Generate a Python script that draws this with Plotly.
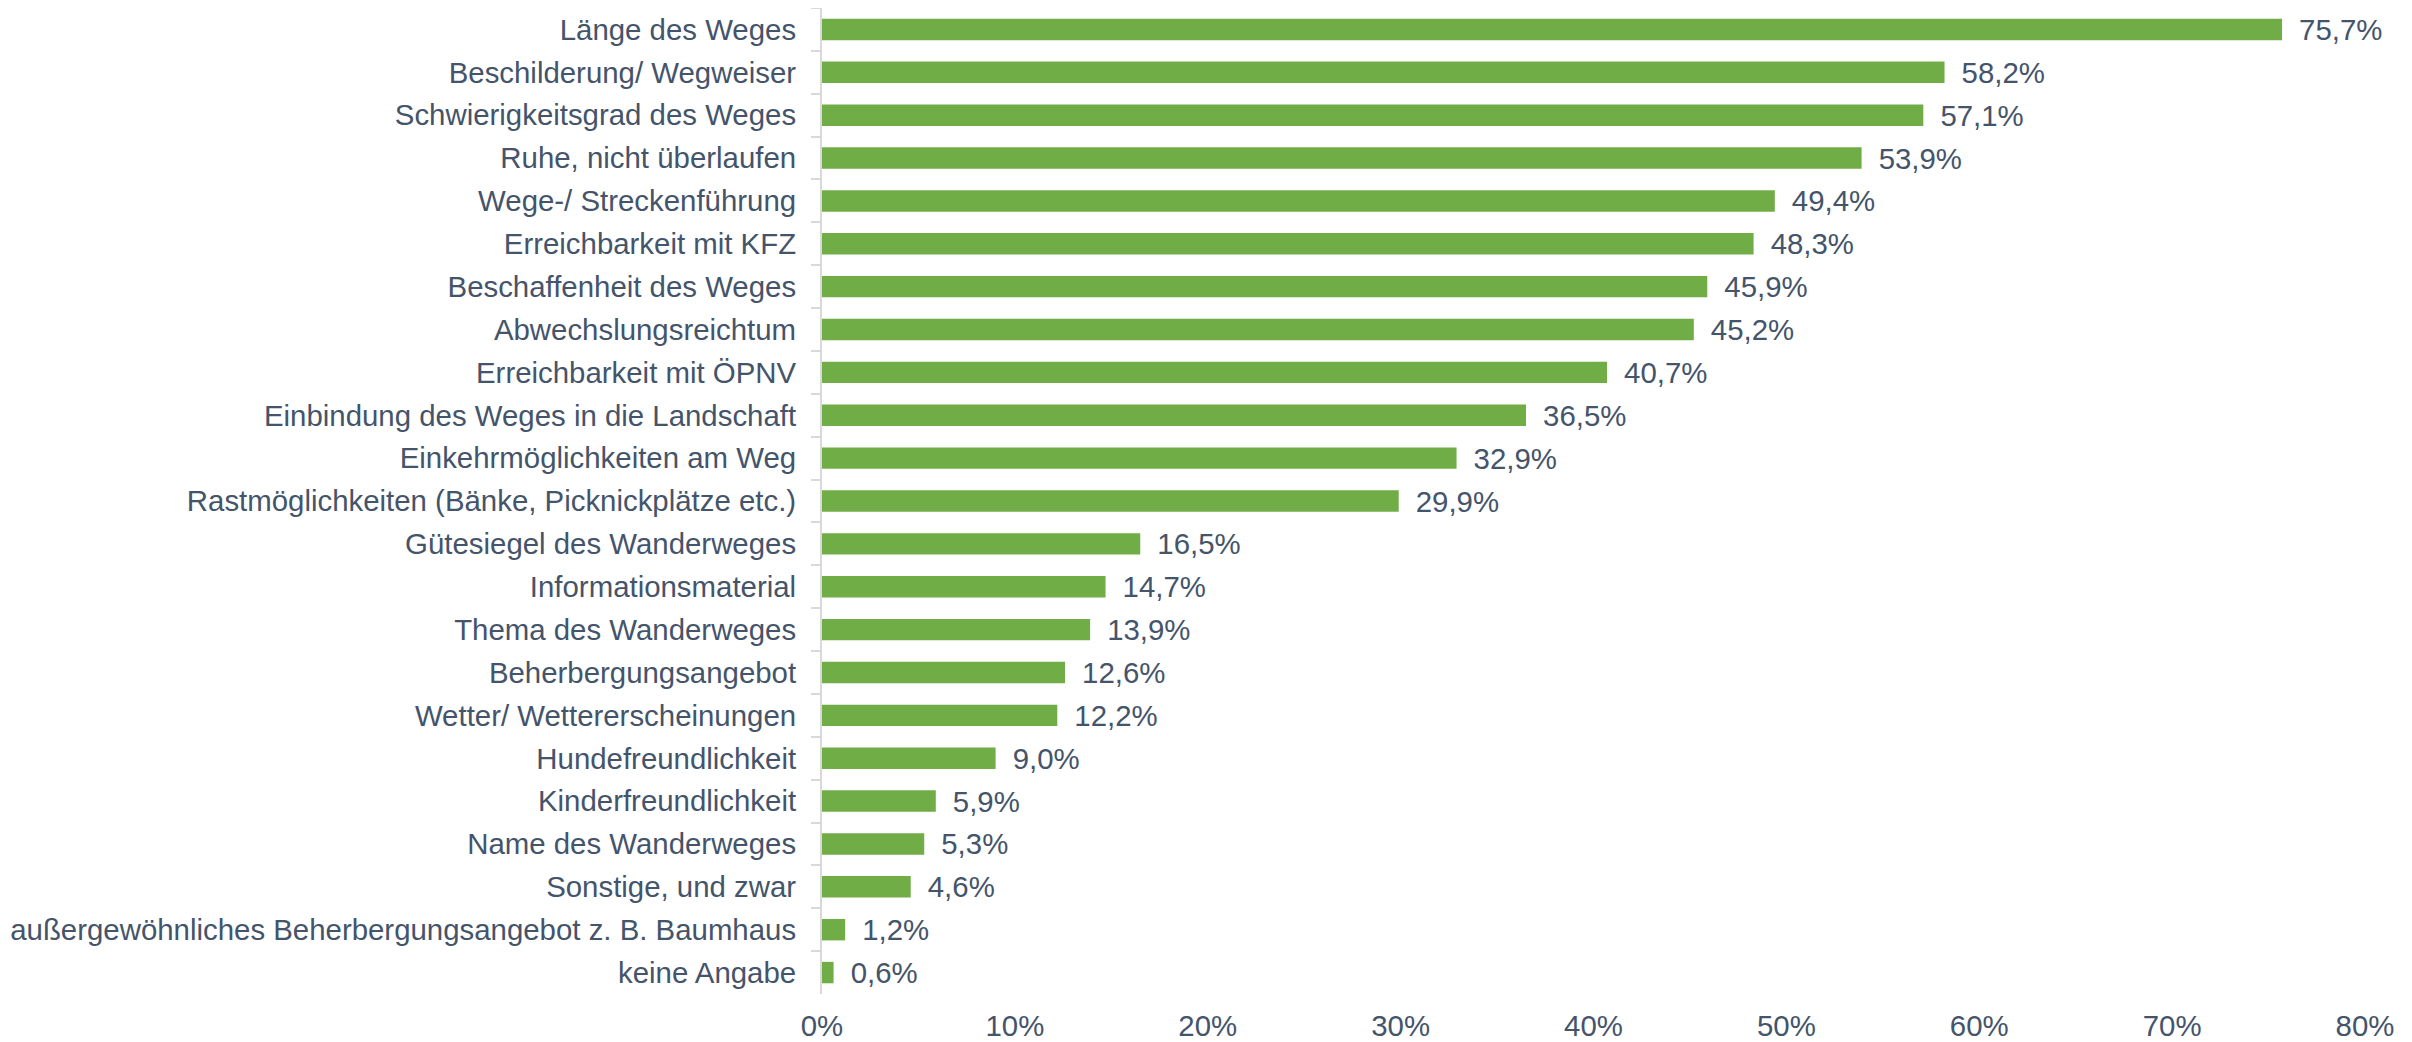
import plotly.graph_objects as go

categories = [
    "Länge des Weges",
    "Beschilderung/ Wegweiser",
    "Schwierigkeitsgrad des Weges",
    "Ruhe, nicht überlaufen",
    "Wege-/ Streckenführung",
    "Erreichbarkeit mit KFZ",
    "Beschaffenheit des Weges",
    "Abwechslungsreichtum",
    "Erreichbarkeit mit ÖPNV",
    "Einbindung des Weges in die Landschaft",
    "Einkehrmöglichkeiten am Weg",
    "Rastmöglichkeiten (Bänke, Picknickplätze etc.)",
    "Gütesiegel des Wanderweges",
    "Informationsmaterial",
    "Thema des Wanderweges",
    "Beherbergungsangebot",
    "Wetter/ Wettererscheinungen",
    "Hundefreundlichkeit",
    "Kinderfreundlichkeit",
    "Name des Wanderweges",
    "Sonstige, und zwar",
    "außergewöhnliches Beherbergungsangebot z. B. Baumhaus",
    "keine Angabe",
]
values = [75.7, 58.2, 57.1, 53.9, 49.4, 48.3, 45.9, 45.2, 40.7, 36.5, 32.9, 29.9,
          16.5, 14.7, 13.9, 12.6, 12.2, 9.0, 5.9, 5.3, 4.6, 1.2, 0.6]
x_ticks = [0, 10, 20, 30, 40, 50, 60, 70, 80]
x_tick_labels = [f"{v}%" for v in x_ticks]

text_color = "#44546A"
font_family = "Liberation Sans, Arial, sans-serif"
fs = 29.4

fig = go.Figure(go.Bar(
    x=values,
    y=categories,
    orientation="h",
    marker=dict(color="#70AD47", line=dict(width=0)),
    width=0.5,
    texttemplate="\u00a0\u2009%{x:.1f}%",
    textposition="outside",
    constraintext="none",
    textfont=dict(size=fs, color=text_color, family=font_family),
    cliponaxis=False,
))

# page body adds an 8px offset; figure sized to fit the 2412x1042 window
fig.update_layout(
    width=2404, height=1034,
    margin=dict(l=814, r=47, t=0, b=48, pad=0),
    paper_bgcolor="white", plot_bgcolor="white",
    separators=",.",
    showlegend=False,
    font=dict(family=font_family, size=fs, color=text_color),
    xaxis=dict(
        range=[0, 80], tickmode="array", tickvals=x_ticks, ticktext=x_tick_labels,
        showgrid=False, zeroline=False, showline=False, automargin=False,
        ticks="", tickfont=dict(size=fs, color=text_color),
        ticklabelstandoff=12,
    ),
    yaxis=dict(
        autorange="reversed", automargin=False,
        showline=True, linecolor="#D9D9D9", linewidth=2,
        ticks="outside", tickson="boundaries", ticklen=9, tickcolor="#D9D9D9", tickwidth=2,
        showgrid=False, zeroline=False,
        tickfont=dict(size=fs, color=text_color),
        ticklabelstandoff=18,
    ),
)

fig.write_html("out.html")
